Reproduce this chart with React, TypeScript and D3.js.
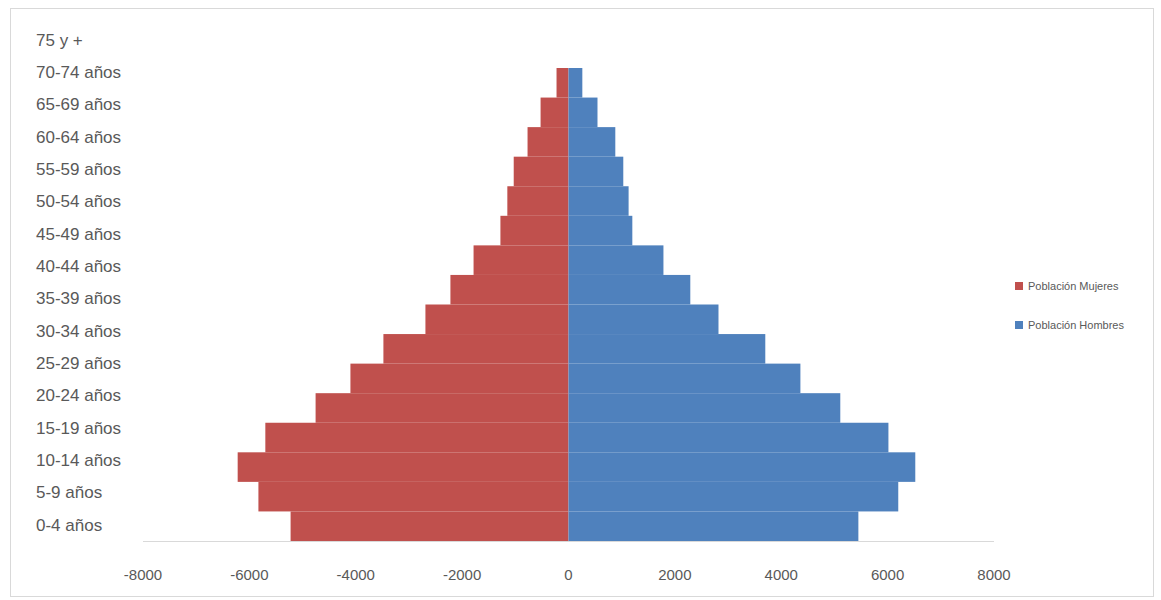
import React from "react";
import * as d3 from "d3";

const ageGroups = [
  "0-4 años", "5-9 años", "10-14 años", "15-19 años", "20-24 años",
  "25-29 años", "30-34 años", "35-39 años", "40-44 años", "45-49 años",
  "50-54 años", "55-59 años", "60-64 años", "65-69 años", "70-74 años", "75 y +",
];
// left side (red) values
const mujeres = [5225, 5830, 6220, 5700, 4755, 4100, 3480, 2690, 2220, 1785, 1280, 1150, 1030, 770, 525, 225];
// right side (blue) values
const hombres = [5450, 6200, 6520, 6015, 5110, 4360, 3700, 2820, 2290, 1785, 1200, 1130, 1030, 880, 545, 260];
const xTicks = [-8000, -6000, -4000, -2000, 0, 2000, 4000, 6000, 8000];
const seriesNames = ["Población Mujeres", "Población Hombres"];

const RED = "#C0504D";
const BLUE = "#4F81BD";
const FONT = "'Liberation Sans', Arial, sans-serif";

export default function App() {
  const W = 1161, H = 600;
  const plotLeft = 143, plotRight = 994, plotTop = 24, plotBottom = 541;
  const x = d3.scaleLinear().domain([-8000, 8000]).range([plotLeft, plotRight]);
  // bars occupy the lower part of the plot area
  const yBar = d3.scaleBand<string>().domain([...ageGroups].reverse()).range([68, plotBottom]).padding(0);
  // category labels spread over the full plot height
  const yLab = d3.scalePoint<string>().domain([...ageGroups].reverse()).range([plotTop + 16, plotBottom - 16]);

  return (
    <div style={{ position: "absolute", left: 0, top: 0 }}>
      <svg width={W} height={H} style={{ display: "block", background: "#fff" }}>
        <rect x={10.5} y={8.5} width={1143} height={588} fill="#fff" stroke="#D9D9D9" strokeWidth={1} />
        {ageGroups.map((g, i) => (
          <rect key={"m" + g} x={x(-mujeres[i])} y={yBar(g)} width={x(0) - x(-mujeres[i])} height={yBar.bandwidth()} fill={RED} />
        ))}
        {ageGroups.map((g, i) => (
          <rect key={"h" + g} x={x(0)} y={yBar(g)} width={x(hombres[i]) - x(0)} height={yBar.bandwidth()} fill={BLUE} />
        ))}
        <line x1={plotLeft} x2={plotRight} y1={plotBottom + 0.5} y2={plotBottom + 0.5} stroke="#D9D9D9" strokeWidth={1} />
        {xTicks.map((t) => (
          <text key={t} x={x(t)} y={580} textAnchor="middle" fontFamily={FONT} fontSize={15} fill="#595959">{t}</text>
        ))}
        {ageGroups.map((g) => (
          <text key={"l" + g} x={36} y={yLab(g)} dominantBaseline="central" fontFamily={FONT} fontSize={17} fill="#595959">{g}</text>
        ))}
        {seriesNames.map((s, i) => (
          <g key={s} transform={`translate(1015, ${286 + i * 39})`}>
            <rect x={0} y={-4} width={8} height={8} fill={i === 0 ? RED : BLUE} />
            <text x={13} y={0} dominantBaseline="central" fontFamily={FONT} fontSize={11} fill="#595959">{s}</text>
          </g>
        ))}
      </svg>
    </div>
  );
}
